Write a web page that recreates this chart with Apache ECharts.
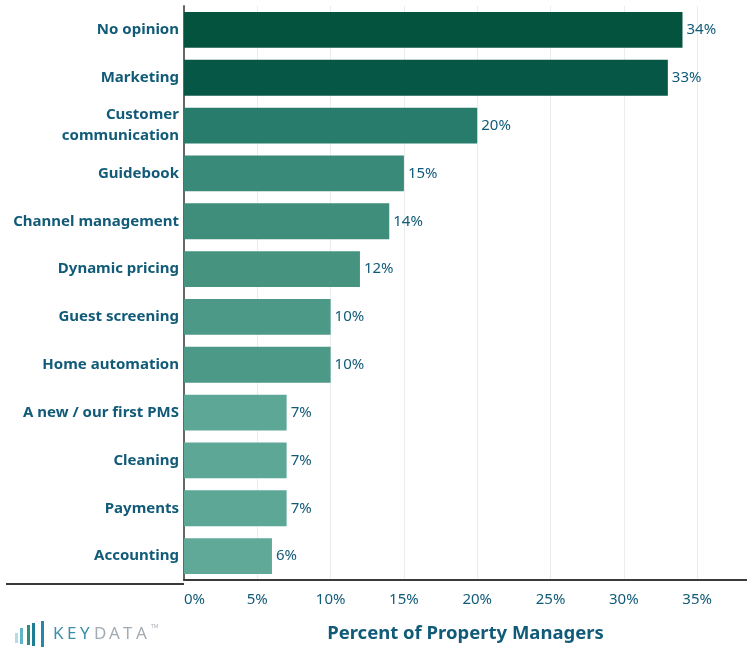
<!DOCTYPE html>
<html>
<head>
<meta charset="utf-8">
<script src="https://cdn.jsdelivr.net/npm/echarts@6/dist/echarts.min.js"></script>
<style>
  html, body { margin: 0; padding: 0; background: #ffffff; }
  #chart { width: 747px; height: 648px; }
</style>
</head>
<body>
<div id="chart"></div>
<script>
// Technology priorities of property managers (share of respondents)
const categories = [
  'No opinion', 'Marketing', 'Customer\ncommunication', 'Guidebook',
  'Channel management', 'Dynamic pricing', 'Guest screening', 'Home automation',
  'A new / our first PMS', 'Cleaning', 'Payments', 'Accounting'
];
const percents = [34, 33, 20, 15, 14, 12, 10, 10, 7, 7, 7, 6];
const barColors = [
  '#04533f', '#075746', '#277c6c', '#3a8a79', '#3e8e7b', '#46937f',
  '#4c9987', '#4c9987', '#5da796', '#5da796', '#5da796', '#60a897'
];
const tickValues = [0, 5, 10, 15, 20, 25, 30, 35];

const FONT = "'Noto Sans', 'Open Sans', sans-serif";
const TEXT_BLUE = '#115b78';

const chart = echarts.init(document.getElementById('chart'), null, { renderer: 'canvas' });

// Letters of the wordmark, laid out with generous tracking
const word = 'KEYDATA';
const wordColors = ['#3c8fa9', '#3c8fa9', '#3c8fa9', '#a3abb3', '#a3abb3', '#a3abb3', '#a3abb3'];
const letterX = [53, 67, 80, 94, 109, 123, 136];
const logoLetters = word.split('').map((ch, i) => ({
  type: 'text',
  left: letterX[i],
  top: 626,
  style: { text: ch, font: '400 17px ' + FONT, fill: wordColors[i] }
}));

chart.setOption({
  animation: false,
  grid: { left: 184, right: 0, top: 6, bottom: 64, containLabel: false },
  xAxis: {
    type: 'value',
    min: 0,
    max: 38.4,
    interval: 5,
    axisLine: { show: true, lineStyle: { color: '#3a3a3a', width: 2 } },
    axisTick: { show: false },
    splitLine: { show: true, lineStyle: { color: '#ececec', width: 1 } },
    axisLabel: {
      margin: 12,
      fontFamily: FONT,
      fontSize: 15,
      color: TEXT_BLUE,
      alignMinLabel: 'left',
      showMaxLabel: false,
      formatter: v => (tickValues.indexOf(v) >= 0 ? v + '%' : '')
    },
    name: 'Percent of Property Managers',
    nameLocation: 'middle',
    nameGap: 44,
    nameTextStyle: { fontFamily: FONT, fontSize: 18.5, fontWeight: 'bold', color: TEXT_BLUE }
  },
  yAxis: {
    type: 'category',
    data: categories,
    inverse: true,
    axisLine: { show: true, lineStyle: { color: '#666666', width: 2 } },
    axisTick: { show: false },
    axisLabel: {
      margin: 5,
      fontFamily: FONT,
      fontSize: 15,
      fontWeight: 'bold',
      color: TEXT_BLUE,
      lineHeight: 21,
      align: 'right'
    }
  },
  series: [{
    type: 'bar',
    data: percents.map((v, i) => ({ value: v, itemStyle: { color: barColors[i] } })),
    barCategoryGap: '25%',
    label: {
      show: true,
      position: 'right',
      distance: 4,
      fontFamily: FONT,
      fontSize: 15,
      color: TEXT_BLUE,
      formatter: p => p.value + '%'
    }
  }],
  graphic: [
    // baseline continues under the category labels
    { type: 'line', shape: { x1: 6, y1: 584, x2: 184, y2: 584 }, style: { stroke: '#3a3a3a', lineWidth: 2 } },
    // logo mark
    { type: 'rect', shape: { x: 15, y: 633, width: 3, height: 10 }, style: { fill: '#b5dbe5' } },
    { type: 'rect', shape: { x: 20, y: 628, width: 3, height: 16 }, style: { fill: '#5fb5c6' } },
    { type: 'rect', shape: { x: 27, y: 625, width: 3, height: 20 }, style: { fill: '#2e8d7a' } },
    { type: 'rect', shape: { x: 32, y: 623, width: 3, height: 23 }, style: { fill: '#1f7c95' } },
    { type: 'rect', shape: { x: 41, y: 621, width: 3, height: 26 }, style: { fill: '#2a86a8' } },
    ...logoLetters,
    { type: 'text', left: 151, top: 624, style: { text: 'TM', font: '400 5px ' + FONT, fill: '#a3abb3' } }
  ]
});
</script>
</body>
</html>
